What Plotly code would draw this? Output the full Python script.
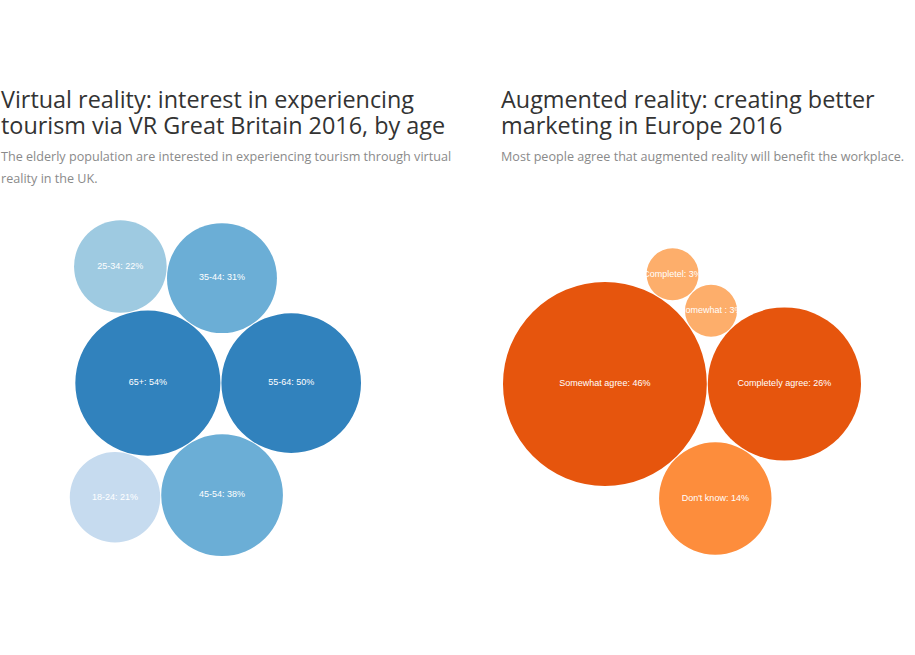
import math
import plotly.graph_objects as go

# ---------------- data ----------------
vr_labels = ["18-24", "25-34", "35-44", "45-54", "55-64", "65+"]
vr_values = [21, 22, 31, 38, 50, 54]

ar_labels = ["Completely agree", "Somewhat agree", "Somewhat disagree",
             "Completely disagree", "Don't know"]
ar_values = [26, 46, 3, 3, 14]

vr_title = ["Virtual reality: interest in experiencing",
            "tourism via VR Great Britain 2016, by age"]
vr_sub = ["The elderly population are interested in experiencing tourism through virtual",
          "reality in the UK."]
ar_title = ["Augmented reality: creating better", "marketing in Europe 2016"]
ar_sub = ["Most people agree that augmented reality will benefit the workplace."]

# ---------------- styles ----------------
vr_colors = {"18-24": "#c6dbef", "25-34": "#9ecae1", "35-44": "#6baed6",
             "45-54": "#6baed6", "55-64": "#3182bd", "65+": "#3182bd"}
ar_colors = {"Completely agree": "#e6550d", "Somewhat agree": "#e6550d",
             "Completely disagree": "#fdae6b", "Somewhat disagree": "#fdae6b",
             "Don't know": "#fd8d3c"}

W, H = 915, 655
PACK = 360           # pack layout size (px)
PADDING = 1.0
LEFT_ORIGIN = (2, 204)
RIGHT_ORIGIN = (502, 204)


# ---------------- d3.pack (port) ----------------
class Node:
    def __init__(self, c):
        self._ = c
        self.next = None
        self.previous = None


def place(b, a, c):
    dx = b["x"] - a["x"]
    dy = b["y"] - a["y"]
    d2 = dx * dx + dy * dy
    if d2:
        a2 = (a["r"] + c["r"]) ** 2
        b2 = (b["r"] + c["r"]) ** 2
        if a2 > b2:
            x = (d2 + b2 - a2) / (2 * d2)
            y = math.sqrt(max(0, b2 / d2 - x * x))
            c["x"] = b["x"] - x * dx - y * dy
            c["y"] = b["y"] - x * dy + y * dx
        else:
            x = (d2 + a2 - b2) / (2 * d2)
            y = math.sqrt(max(0, a2 / d2 - x * x))
            c["x"] = a["x"] + x * dx - y * dy
            c["y"] = a["y"] + x * dy + y * dx
    else:
        c["x"] = a["x"] + c["r"]
        c["y"] = a["y"]


def intersects(a, b):
    dr = a["r"] + b["r"] - 1e-6
    dx = b["x"] - a["x"]
    dy = b["y"] - a["y"]
    return dr > 0 and dr * dr > dx * dx + dy * dy


def score(node):
    a = node._
    b = node.next._
    ab = a["r"] + b["r"]
    dx = (a["x"] * b["r"] + b["x"] * a["r"]) / ab
    dy = (a["y"] * b["r"] + b["y"] * a["r"]) / ab
    return dx * dx + dy * dy


def enc2(a, b):
    x1, y1, r1 = a["x"], a["y"], a["r"]
    x2, y2, r2 = b["x"], b["y"], b["r"]
    x21, y21, r21 = x2 - x1, y2 - y1, r2 - r1
    l = math.sqrt(x21 * x21 + y21 * y21)
    if l == 0:
        return {"x": x1, "y": y1, "r": max(r1, r2)}
    return {"x": (x1 + x2 + x21 / l * r21) / 2,
            "y": (y1 + y2 + y21 / l * r21) / 2,
            "r": (l + r1 + r2) / 2}


def enc3(a, b, c):
    x1, y1, r1 = a["x"], a["y"], a["r"]
    x2, y2, r2 = b["x"], b["y"], b["r"]
    x3, y3, r3 = c["x"], c["y"], c["r"]
    a2, a3 = x1 - x2, x1 - x3
    b2, b3 = y1 - y2, y1 - y3
    c2, c3 = r2 - r1, r3 - r1
    d1 = x1 * x1 + y1 * y1 - r1 * r1
    d2 = d1 - x2 * x2 - y2 * y2 + r2 * r2
    d3 = d1 - x3 * x3 - y3 * y3 + r3 * r3
    ab = a3 * b2 - a2 * b3
    if ab == 0:
        return None
    xa = (b2 * d3 - b3 * d2) / (ab * 2) - x1
    xb = (b3 * c2 - b2 * c3) / ab
    ya = (a3 * d2 - a2 * d3) / (ab * 2) - y1
    yb = (a2 * c3 - a3 * c2) / ab
    A = xb * xb + yb * yb - 1
    B = 2 * (r1 + xa * xb + ya * yb)
    C = xa * xa + ya * ya - r1 * r1
    disc = B * B - 4 * A * C
    if disc < 0:
        return None
    r = -((B + math.sqrt(disc)) / (2 * A) if abs(A) > 1e-6 else C / B)
    return {"x": x1 + xa + xb * r, "y": y1 + ya + yb * r, "r": r}


def encloses(e, c):
    dx = c["x"] - e["x"]
    dy = c["y"] - e["y"]
    return e["r"] - c["r"] + 1e-6 >= math.sqrt(dx * dx + dy * dy)


def enclose(circles):
    cands = [dict(c) for c in circles]
    n = len(circles)
    for i in range(n):
        for j in range(i + 1, n):
            cands.append(enc2(circles[i], circles[j]))
            for k in range(j + 1, n):
                e = enc3(circles[i], circles[j], circles[k])
                if e is not None:
                    cands.append(e)
    best = None
    for e in cands:
        if all(encloses(e, c) for c in circles):
            if best is None or e["r"] < best["r"]:
                best = e
    return best


def pack_enclose(circles):
    n = len(circles)
    if not n:
        return 0
    a = circles[0]
    a["x"], a["y"] = 0.0, 0.0
    if n == 1:
        return a["r"]
    b = circles[1]
    a["x"] = -b["r"]
    b["x"], b["y"] = a["r"], 0.0
    if n == 2:
        return a["r"] + b["r"]
    c = circles[2]
    place(b, a, c)
    a, b, c = Node(a), Node(b), Node(c)
    a.next = c.previous = b
    b.next = a.previous = c
    c.next = b.previous = a
    i = 3
    while i < n:
        cc = circles[i]
        place(a._, b._, cc)
        c = Node(cc)
        j, k = b.next, a.previous
        sj, sk = b._["r"], a._["r"]
        restart = False
        while True:
            if sj <= sk:
                if intersects(j._, c._):
                    b = j
                    a.next = b
                    b.previous = a
                    restart = True
                    break
                sj += j._["r"]
                j = j.next
            else:
                if intersects(k._, c._):
                    a = k
                    a.next = b
                    b.previous = a
                    restart = True
                    break
                sk += k._["r"]
                k = k.previous
            if j is k.next:
                break
        if restart:
            continue
        c.previous = a
        c.next = b
        a.next = c
        b.previous = c
        b = c
        aa = score(a)
        c = c.next
        while c is not b:
            ca = score(c)
            if ca < aa:
                a, aa = c, ca
            c = c.next
        b = a.next
        i += 1
    chain = [b._]
    c = b.next
    while c is not b:
        chain.append(c._)
        c = c.next
    e = enclose(chain)
    for cc in circles:
        cc["x"] -= e["x"]
        cc["y"] -= e["y"]
    return e["r"]


def pack(labels, values, size, padding):
    order = sorted(range(len(values)), key=lambda i: -values[i])
    leaves = [{"label": labels[i], "value": values[i], "r": math.sqrt(values[i])}
              for i in order]
    root_r = pack_enclose(leaves)
    pad = padding * root_r / size
    for c in leaves:
        c["r"] += pad
    e = pack_enclose(leaves)
    for c in leaves:
        c["r"] -= pad
    root_r = e + pad
    k = size / (2 * root_r)
    for c in leaves:
        c["x"] = size / 2 + k * c["x"]
        c["y"] = size / 2 + k * c["y"]
        c["r"] *= k
    return leaves


# ---------------- figure ----------------
fig = go.Figure()
shapes = []
annotations = []


def add_panel(labels, values, colors, origin, xa, ya):
    leaves = pack(labels, values, PACK, PADDING)
    ox, oy = origin
    fig.update_layout(**{
        xa: dict(domain=[ox / W, (ox + PACK) / W], range=[0, PACK],
                 visible=False, fixedrange=True),
        ya: dict(domain=[1 - (oy + PACK) / H, 1 - oy / H], range=[PACK, 0],
                 visible=False, fixedrange=True),
    })
    xr = xa.replace("axis", "")
    yr = ya.replace("axis", "")
    for c in leaves:
        shapes.append(dict(type="circle", xref=xr, yref=yr, layer="below",
                           x0=c["x"] - c["r"], x1=c["x"] + c["r"],
                           y0=c["y"] - c["r"], y1=c["y"] + c["r"],
                           fillcolor=colors[c["label"]], line=dict(width=0)))
    texts = [c["label"][:math.ceil(c["r"] / 3)] + ": " + str(c["value"]) + "%"
             for c in leaves]
    fig.add_trace(go.Scatter(
        x=[c["x"] for c in leaves], y=[c["y"] for c in leaves],
        mode="text", text=texts, xaxis=xr, yaxis=yr,
        textposition="middle center",
        textfont=dict(family="Liberation Sans, Arial, sans-serif", size=9,
                      color="white"),
        hoverinfo="skip", showlegend=False))


add_panel(vr_labels, vr_values, vr_colors, LEFT_ORIGIN, "xaxis", "yaxis")
add_panel(ar_labels, ar_values, ar_colors, RIGHT_ORIGIN, "xaxis2", "yaxis2")


def add_text(lines, x, y0, dy, size, color):
    for i, t in enumerate(lines):
        annotations.append(dict(
            text=t, xref="paper", yref="paper", x=x / W, y=1 - (y0 + i * dy) / H,
            xanchor="left", yanchor="middle", showarrow=False, borderpad=0,
            font=dict(family="Open Sans", size=size, color=color)))


add_text(vr_title, 0, 99, 26, 23.4, "#333333")
add_text(vr_sub, 0, 157, 21, 12.6, "#8a8a8a")
add_text(ar_title, 500, 99, 26, 23.4, "#333333")
add_text(ar_sub, 500, 157, 21, 12.6, "#8a8a8a")

fig.update_layout(
    width=W, height=H, autosize=False,
    margin=dict(l=0, r=0, t=0, b=0),
    paper_bgcolor="white", plot_bgcolor="white",
    shapes=shapes, annotations=annotations,
    showlegend=False,
)

fig.write_html("out.html")
